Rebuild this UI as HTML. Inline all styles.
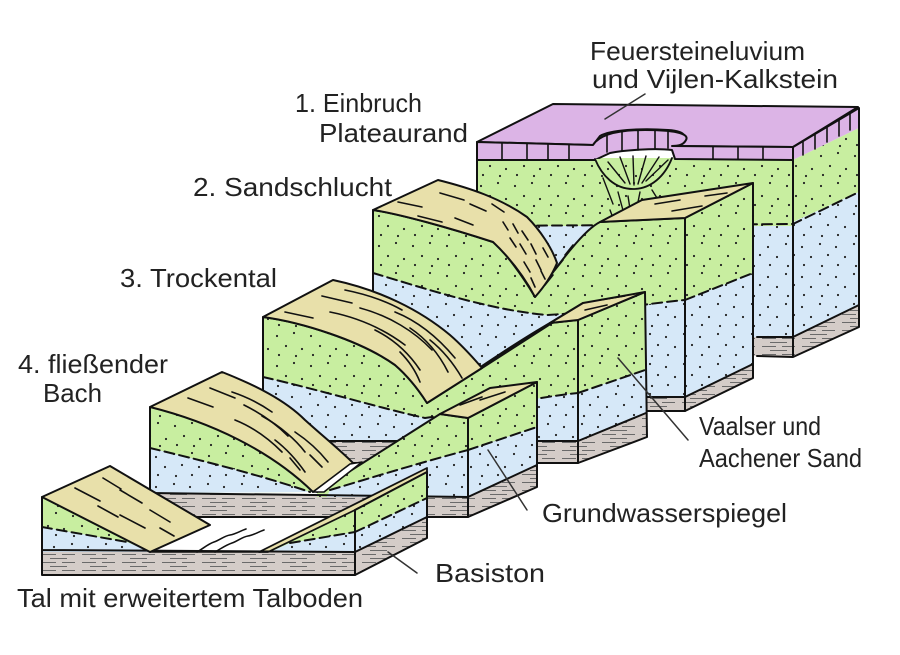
<!DOCTYPE html>
<html><head><meta charset="utf-8">
<style>
html,body{margin:0;padding:0;background:#fff;}
svg{display:block;}
text{font-family:"Liberation Sans",sans-serif;font-size:26px;fill:#222;}
</style></head><body>
<svg width="900" height="655" viewBox="0 0 900 655" xmlns="http://www.w3.org/2000/svg">
<defs>
<pattern id="pg" width="34" height="30" patternUnits="userSpaceOnUse">
<rect width="34" height="30" fill="#c8eea0"/>
<g fill="#222"><circle cx="5" cy="6" r="1.1"/><circle cx="22" cy="3" r="1.1"/><circle cx="14" cy="16" r="1.1"/><circle cx="30" cy="19" r="1.1"/><circle cx="7" cy="25" r="1.1"/><circle cx="24" cy="26" r="1.1"/></g>
</pattern>
<pattern id="pb" width="34" height="30" patternUnits="userSpaceOnUse">
<rect width="34" height="30" fill="#d6e8f8"/>
<g fill="#222"><circle cx="4" cy="4" r="1.1"/><circle cx="20" cy="7" r="1.1"/><circle cx="12" cy="15" r="1.1"/><circle cx="29" cy="17" r="1.1"/><circle cx="6" cy="26" r="1.1"/><circle cx="22" cy="25" r="1.1"/></g>
</pattern>
<pattern id="pc" width="40" height="8" patternUnits="userSpaceOnUse">
<rect width="40" height="8" fill="#d4ccc8"/>
<g stroke="#6a6a6a" stroke-width="1"><line x1="2" y1="2.5" x2="16" y2="2.5"/><line x1="22" y1="2.5" x2="35" y2="2.5"/><line x1="10" y1="6.5" x2="27" y2="6.5"/></g>
</pattern>
<clipPath id="c2"><path d="M373,210 C400,214 450,228 493,242 C505,252 522,275 535,297 C545,283 560,262 572,248 C582,236 592,226 600,222 L685,218 L685,411 L373,411 Z"/></clipPath>
<clipPath id="c3"><path d="M263,317 C300,322 360,340 395,365 C410,378 420,392 427,403 C460,381 510,346 550,323 L578,320 L578,463 L263,463 Z"/></clipPath>
<clipPath id="c4r"><path d="M317,492 L440,414 L468,418 L468,517 L317,517 Z"/></clipPath>
<clipPath id="c5r"><path d="M268,552 L355,510 L355,552 Z"/></clipPath>
</defs>

<g stroke-linejoin="round" stroke-linecap="round">

<!-- ===== Block 1 ===== -->
<rect x="477" y="158" width="316" height="68" fill="url(#pg)"/>
<rect x="477" y="226" width="316" height="111" fill="url(#pb)"/>
<rect x="477" y="337" width="316" height="19" fill="url(#pc)"/>
<!-- side -->
<polygon points="793,147 859,108 859,128 793,160" fill="#dcb4e6"/>
<polygon points="793,160 859,128 859,192 793,222" fill="url(#pg)"/>
<polygon points="793,222 859,192 859,305 793,337" fill="url(#pb)"/>
<polygon points="793,337 859,305 859,327 793,357" fill="url(#pc)"/>
<!-- purple top -->
<path d="M477,142 L553,104 L858,107 L793,147 L675,146 C690,140 688,131 668,130 C640,128 610,130 600,136 L593,145 Z" fill="#dcb4e6" stroke="#111" stroke-width="2"/>
<path d="M477,142 L593,145 C600,134 620,130 645,130 C672,130 690,133 686,140 C683,146 676,146 672,146 L793,147 L793,160 L675,159 L672,150 C655,148 625,150 610,153 L595,160 L477,160 Z" fill="#dcb4e6" stroke="#111" stroke-width="2"/>
<g stroke="#111" stroke-width="1.6" fill="none">
<path d="M502,143 V160 M527,144 V160 M548,144 V160 M569,145 V160 M607,135 V152 M622,131 V151 M638,130 V150 M655,130 V149 M668,131 V148 M713,147 V159 M738,147 V159 M763,147 V159"/>
<path d="M803,141 V155 M815,134 V149 M827,127 V142 M839,120 V136 M850,114 V130"/>
</g>
<!-- bowl -->
<path d="M595,159 C602,176 615,189 633,189 C651,189 665,176 672,158" fill="url(#pg)" stroke="#111" stroke-width="1.8"/>
<g stroke="#111" stroke-width="1.4" fill="none">
<path d="M608,162 L625,183 M620,157 L630,184 M633,156 L634,185 M646,156 L638,184 M659,157 L642,183 M668,160 L646,181"/>
<path d="M603,178 L613,204 M618,192 L624,214 M640,192 L636,212 M652,190 L662,206 M628,196 L632,222 M610,210 L616,226"/>
</g>
<g stroke="#111" stroke-width="2" fill="none">
<path d="M477,142 V200 M793,147 V357 M757,356 L793,357 L859,327 V108 L793,147"/>
<path d="M477,226 L793,224 L859,192" stroke-dasharray="10 5"/>
<path d="M757,337 L793,337 L859,305"/>
</g>

<!-- ===== Block 2 ===== -->
<g clip-path="url(#c2)">
<rect x="370" y="170" width="320" height="245" fill="url(#pg)"/>
<path d="M373,273 C430,290 490,310 547,315 C600,312 650,303 685,300 L685,411 L373,411 Z" fill="url(#pb)"/>
<rect x="370" y="397" width="320" height="15" fill="url(#pc)"/>
</g>
<path d="M373,273 C430,290 490,310 547,315 C600,312 650,303 685,300" fill="none" stroke="#111" stroke-width="2" stroke-dasharray="10 5"/>
<path d="M373,397 L685,397" stroke="#111" stroke-width="2"/>
<path d="M373,210 C400,214 450,228 493,242 C505,252 522,275 535,297 C545,283 560,262 572,248 C582,236 592,226 600,222 L685,218 L685,411 L373,411 Z" fill="none" stroke="#111" stroke-width="2"/>
<!-- side -->
<polygon points="685,218 753,183 753,273 685,300" fill="url(#pg)"/>
<polygon points="685,300 753,273 753,364 685,397" fill="url(#pb)"/>
<polygon points="685,397 753,364 753,378 685,411" fill="url(#pc)"/>
<path d="M685,300 L753,273" stroke="#111" stroke-width="2" stroke-dasharray="10 5"/>
<path d="M685,397 L753,364" stroke="#111" stroke-width="2"/>
<polygon points="685,218 753,183 753,378 685,411" fill="none" stroke="#111" stroke-width="2"/>
<!-- tan tops -->
<path d="M373,210 L438,180 C470,188 500,198 527,217 C540,230 552,248 557,263 C552,275 544,287 535,297 C525,278 512,260 493,242 C450,228 400,214 373,210 Z" fill="#e8e0aa" stroke="#111" stroke-width="2"/>
<polygon points="600,222 642,200 753,183 685,218" fill="#e8e0aa" stroke="#111" stroke-width="2"/>
<g stroke="#111" stroke-width="1.6" fill="none">
<path d="M398,202 l24,5 M440,193 l24,7 M418,216 l24,6 M470,204 l16,7 M492,204 l12,8 M455,218 l18,7"/>
<path d="M503,222 l5,8 M513,224 l5,9 M522,231 l6,9 M510,238 l6,9 M520,244 l6,10 M531,244 l5,10 M524,262 l6,10 M536,260 l5,10 M543,248 l5,9 M531,278 l4,9 M541,271 l4,8"/>
<path d="M655,204 l25,-4 M672,211 l30,-5 M705,196 l22,-3"/>
<path d="M545,285 l8,-10 M555,270 l8,-10 M565,255 l8,-10"/>
</g>

<!-- ===== Block 3 ===== -->
<g clip-path="url(#c3)">
<rect x="260" y="300" width="320" height="165" fill="url(#pg)"/>
<path d="M263,377 C320,390 380,408 425,418 C480,410 530,398 578,393 L578,463 L263,463 Z" fill="url(#pb)"/>
<rect x="260" y="441" width="320" height="24" fill="url(#pc)"/>
</g>
<path d="M263,377 C320,390 380,408 425,418 C480,410 530,398 578,393" fill="none" stroke="#111" stroke-width="2" stroke-dasharray="10 5"/>
<path d="M263,441 L578,441" stroke="#111" stroke-width="2"/>
<path d="M263,317 C300,322 360,340 395,365 C410,378 420,392 427,403 C460,381 510,346 550,323 L578,320 L578,463 L263,463 Z" fill="none" stroke="#111" stroke-width="2"/>
<polygon points="427,403 482,368 583,303 550,323" fill="url(#pg)" stroke="#111" stroke-width="2"/>
<!-- side -->
<polygon points="578,320 645,292 645,370 578,393" fill="url(#pg)"/>
<polygon points="578,393 645,370 646,413 578,441" fill="url(#pb)"/>
<polygon points="578,441 646,413 647,437 578,463" fill="url(#pc)"/>
<path d="M578,393 L645,370" stroke="#111" stroke-width="2" stroke-dasharray="10 5"/>
<path d="M578,441 L646,413" stroke="#111" stroke-width="2"/>
<polygon points="578,320 645,292 647,437 578,463" fill="none" stroke="#111" stroke-width="2"/>
<!-- tan -->
<path d="M263,317 L333,280 C380,290 420,310 450,335 C465,348 475,360 482,368 L427,403 C420,392 410,378 395,365 C360,340 300,322 263,317 Z" fill="#e8e0aa" stroke="#111" stroke-width="2"/>
<polygon points="550,323 583,303 645,292 578,320" fill="#e8e0aa" stroke="#111" stroke-width="2"/>
<g stroke="#111" stroke-width="1.6" fill="none">
<path d="M285,312 l28,6 M322,296 l30,7 M345,290 C370,295 390,303 402,310"/>
<path d="M330,312 C360,318 385,330 405,345 M360,308 C390,316 415,332 432,350 M395,312 C420,322 440,340 455,358"/>
<path d="M375,330 C395,340 410,355 420,370 M410,328 C428,340 440,356 448,372 M430,340 C445,352 455,366 462,378"/>
<path d="M400,352 C410,362 416,372 420,382"/>
<path d="M585,310 l22,-5 M600,300 l25,-4"/>
</g>

<!-- ===== Block 4 ===== -->
<polygon points="150,493 468,497 468,517 150,517" fill="url(#pc)"/>
<path d="M150,407 C210,422 270,450 313,492 L150,493 Z" fill="url(#pg)"/>
<path d="M150,448 C200,460 260,475 310,492 L150,493 Z" fill="url(#pb)"/>
<path d="M150,448 C200,460 260,475 310,492" fill="none" stroke="#111" stroke-width="2" stroke-dasharray="10 5"/>
<g clip-path="url(#c4r)">
<rect x="315" y="410" width="160" height="110" fill="url(#pg)"/>
<path d="M330,490 C380,475 430,460 468,450 L468,517 L317,517 Z" fill="url(#pb)"/>
<rect x="315" y="497" width="160" height="22" fill="url(#pc)"/>
</g>
<path d="M330,490 C380,475 430,460 468,450" fill="none" stroke="#111" stroke-width="2" stroke-dasharray="10 5"/>
<path d="M150,493 L468,497" stroke="#111" stroke-width="2"/>
<path d="M150,407 V517 H468 V418 L440,414 L317,492" fill="none" stroke="#111" stroke-width="2"/>
<!-- side -->
<polygon points="468,418 537,382 537,427 468,450" fill="url(#pg)"/>
<polygon points="468,450 537,427 537,465 468,497" fill="url(#pb)"/>
<polygon points="468,497 537,465 537,487 468,517" fill="url(#pc)"/>
<path d="M468,450 L537,427" stroke="#111" stroke-width="2" stroke-dasharray="10 5"/>
<path d="M468,497 L537,465" stroke="#111" stroke-width="2"/>
<polygon points="468,418 537,382 537,487 468,517" fill="none" stroke="#111" stroke-width="2"/>
<polygon points="440,414 490,388 537,382 468,418" fill="#e8e0aa" stroke="#111" stroke-width="2"/>
<!-- tan left -->
<path d="M150,407 L222,372 C255,385 285,400 305,420 C325,438 340,450 353,463 L313,492 C270,450 210,422 150,407 Z" fill="#e8e0aa" stroke="#111" stroke-width="2"/>
<path d="M313,492 L350,464 L362,462 L324,492 Z" fill="#fff" stroke="#111" stroke-width="1.6"/>
<g stroke="#111" stroke-width="1.6" fill="none">
<path d="M188,398 l25,9 M210,388 l25,10 M232,392 C250,398 262,405 272,412 M244,405 C262,414 276,424 288,436"/>
<path d="M235,420 C255,428 270,440 282,452 M262,416 C280,426 296,440 305,452 M275,440 C288,450 298,462 305,472"/>
<path d="M295,432 C310,442 320,452 328,462 M290,458 l10,12 M310,455 l12,12"/>
<path d="M460,405 l22,-8 M480,400 l25,-8"/>
</g>

<!-- ===== Block 5 ===== -->
<polygon points="42,550 355,552 355,575 42,575" fill="url(#pc)"/>
<path d="M42,497 L150,552 L42,552 Z" fill="url(#pg)"/>
<path d="M42,527 L127,542 L150,552 L42,552 Z" fill="url(#pb)"/>
<path d="M42,527 L127,542" stroke="#111" stroke-width="2" stroke-dasharray="10 5"/>
<g clip-path="url(#c5r)">
<rect x="260" y="500" width="100" height="60" fill="url(#pg)"/>
<path d="M290,543 L355,532 L355,552 L270,552 Z" fill="url(#pb)"/>
</g>
<path d="M290,543 L355,532" stroke="#111" stroke-width="2" stroke-dasharray="10 5"/>
<polygon points="259,552 427,468 427,472 355,510 268,552" fill="#e8e0aa" stroke="#111" stroke-width="1.8"/>
<!-- side -->
<polygon points="355,510 427,472 427,498 355,532" fill="url(#pg)"/>
<polygon points="355,532 427,498 427,517 355,552" fill="url(#pb)"/>
<polygon points="355,552 427,517 427,538 355,575" fill="url(#pc)"/>
<path d="M355,532 L427,498" stroke="#111" stroke-width="2" stroke-dasharray="10 5"/>
<path d="M355,552 L427,517" stroke="#111" stroke-width="2"/>
<polygon points="355,510 427,472 427,538 355,575" fill="none" stroke="#111" stroke-width="2"/>
<path d="M42,550 L355,552 M42,497 V575 H355 V510" fill="none" stroke="#111" stroke-width="2"/>
<path d="M150,517 L317,517" stroke="#111" stroke-width="2"/>
<!-- tan left -->
<path d="M42,497 L110,466 L210,525 L150,552 Z" fill="#e8e0aa" stroke="#111" stroke-width="2"/>
<g stroke="#111" stroke-width="1.6" fill="none">
<path d="M75,488 l25,13 M103,478 l18,11 M120,490 l22,13 M98,506 l20,11 M120,515 l25,13 M150,510 l20,12 M160,528 l14,8"/>
</g>
<!-- stream -->
<g stroke="#111" stroke-width="1.6" fill="none">
<path d="M197,552 C204,548 208,544 214,542 C220,540 224,536 230,535 C236,534 240,531 246,529"/>
<path d="M215,552 C222,548 226,545 232,543 C238,541 242,537 248,536 C254,535 258,532 264,530"/>
<path d="M150,552 L260,552"/>
</g>

<!-- pointer lines -->
<g stroke="#333" stroke-width="1.5">
<line x1="605" y1="119" x2="645" y2="94"/>
<line x1="618" y1="358" x2="688" y2="440"/>
<line x1="488" y1="450" x2="527" y2="510"/>
<line x1="388" y1="552" x2="417" y2="573"/>
</g>
</g>

<!-- labels -->
<text x="590" y="60" textLength="215" lengthAdjust="spacingAndGlyphs">Feuersteineluvium</text>
<text x="592" y="88" textLength="246" lengthAdjust="spacingAndGlyphs">und Vijlen-Kalkstein</text>
<text x="295" y="112" textLength="127" lengthAdjust="spacingAndGlyphs">1. Einbruch</text>
<text x="319" y="142" textLength="149" lengthAdjust="spacingAndGlyphs">Plateaurand</text>
<text x="193" y="196" textLength="199" lengthAdjust="spacingAndGlyphs">2. Sandschlucht</text>
<text x="120" y="287" textLength="157" lengthAdjust="spacingAndGlyphs">3. Trockental</text>
<text x="18" y="373" textLength="150" lengthAdjust="spacingAndGlyphs">4. fließender</text>
<text x="43" y="402" textLength="59" lengthAdjust="spacingAndGlyphs">Bach</text>
<text x="699" y="435" textLength="122" lengthAdjust="spacingAndGlyphs">Vaalser und</text>
<text x="699" y="467" textLength="163" lengthAdjust="spacingAndGlyphs">Aachener Sand</text>
<text x="542" y="522" textLength="245" lengthAdjust="spacingAndGlyphs">Grundwasserspiegel</text>
<text x="435" y="582" textLength="110" lengthAdjust="spacingAndGlyphs">Basiston</text>
<text x="17" y="607" textLength="346" lengthAdjust="spacingAndGlyphs">Tal mit erweitertem Talboden</text>
</svg>
</body></html>
